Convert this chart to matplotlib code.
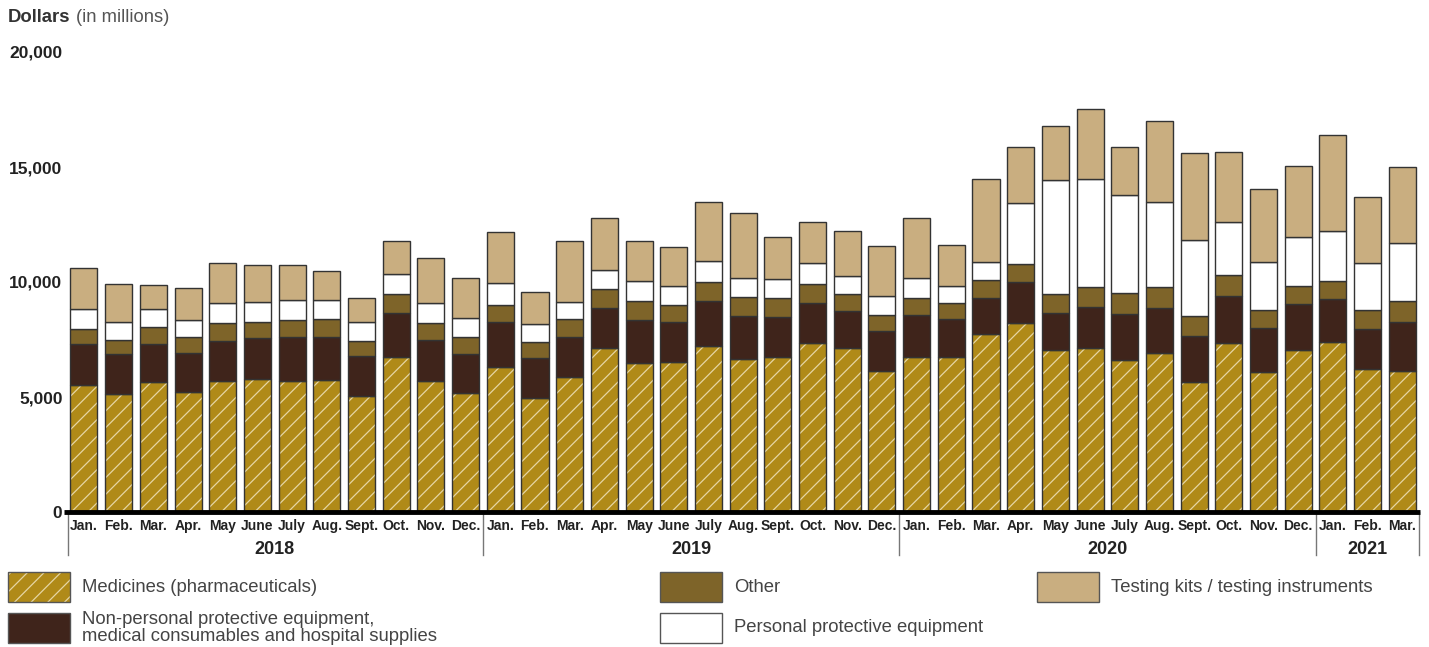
import matplotlib.pyplot as plt
import numpy as np
from matplotlib.patches import Rectangle

plt.rcParams['font.family'] = ['Liberation Sans', 'DejaVu Sans']
plt.rcParams['hatch.linewidth'] = 0.9

months = ['Jan.', 'Feb.', 'Mar.', 'Apr.', 'May', 'June', 'July', 'Aug.', 'Sept.', 'Oct.', 'Nov.', 'Dec.'] * 3 \
    + ['Jan.', 'Feb.', 'Mar.']
years = ['2018', '2019', '2020', '2021']
year_counts = [12, 12, 12, 3]

# dollars in millions
medicines = [5520, 5130, 5670, 5200, 5700, 5770, 5700, 5740, 5060, 6750, 5710, 5160,
             6320, 4970, 5880, 7120, 6460, 6510, 7230, 6650, 6730, 7330, 7120, 6150,
             6750, 6750, 7730, 8230, 7040, 7120, 6610, 6900, 5670, 7330, 6070, 7040,
             7380, 6220, 6150]
non_ppe = [1780, 1730, 1640, 1730, 1750, 1780, 1930, 1850, 1720, 1910, 1770, 1700,
           1960, 1740, 1740, 1770, 1880, 1770, 1940, 1870, 1770, 1770, 1620, 1700,
           1810, 1620, 1590, 1780, 1620, 1780, 1990, 1990, 1990, 2070, 1910, 1990,
           1880, 1740, 2130]
other = [650, 620, 720, 670, 750, 720, 720, 780, 670, 810, 750, 740,
         720, 670, 750, 810, 830, 730, 840, 810, 800, 810, 740, 720,
         730, 720, 770, 770, 810, 900, 910, 910, 880, 900, 800, 810,
         780, 830, 900]
ppe = [860, 780, 780, 750, 900, 870, 870, 840, 830, 870, 840, 830,
       970, 800, 770, 830, 880, 830, 910, 850, 830, 900, 780, 800,
       870, 740, 800, 2640, 4960, 4670, 4280, 3700, 3290, 2320, 2070, 2130,
       2170, 2030, 2510]
testing = [1810, 1640, 1040, 1410, 1740, 1590, 1520, 1280, 1040, 1450, 1960, 1740,
           2190, 1380, 2640, 2250, 1730, 1670, 2570, 2800, 1830, 1780, 1970, 2200,
           2610, 1770, 3580, 2440, 2360, 3060, 2100, 3480, 3770, 3020, 3190, 3090,
           4170, 2870, 3310]

series = [
    ('Medicines (pharmaceuticals)', medicines, '#B08A18'),
    ('Non-personal protective equipment,\nmedical consumables and hospital supplies', non_ppe, '#3F241B'),
    ('Other', other, '#7E6429'),
    ('Personal protective equipment', ppe, '#FFFFFF'),
    ('Testing kits / testing instruments', testing, '#C9AE80'),
]
hatch_col = '#E6D6A4'

W, H = 1429, 647
fig = plt.figure(figsize=(W / 100, H / 100), dpi=100)
ax = fig.add_axes([68 / W, 1 - 512 / H, 1351 / W, 460 / H])

x = np.arange(len(months))
bottom = np.zeros(len(months))
edge = '#333333'
for i, (name, vals, col) in enumerate(series):
    vals = np.array(vals, dtype=float)
    if i == 0:
        ax.bar(x, vals, 0.78, bottom=bottom, color=col, edgecolor=hatch_col, hatch='//', linewidth=0)
        ax.bar(x, vals, 0.78, bottom=bottom, fill=False, edgecolor=edge, linewidth=1)
    else:
        ax.bar(x, vals, 0.78, bottom=bottom, color=col, edgecolor=edge, linewidth=1)
    bottom += vals

ax.set_xlim(-0.46, len(months) - 0.52)
ax.set_ylim(0, 20000)
for s in ['top', 'right', 'left', 'bottom']:
    ax.spines[s].set_visible(False)
ax.plot([-0.003, 1.001], [0, 0], color='black', lw=3.5, transform=ax.transAxes,
        clip_on=False, solid_capstyle='butt', zorder=5)

ax.set_yticks([0, 5000, 10000, 15000, 20000])
ax.set_yticklabels(['0', '5,000', '10,000', '15,000', '20,000'], fontsize=12.5,
                   fontweight='bold', color='#222')
ax.tick_params(axis='y', length=0, pad=4)
ax.set_xticks(x)
ax.set_xticklabels(months, fontsize=10, fontweight='bold', color='#222')
ax.tick_params(axis='x', length=0, pad=5)

# year separators and labels
bounds = np.concatenate([[0], np.cumsum(year_counts)]) - 0.5
sep_bottom = -43 / 460
for b in bounds:
    xb = min(max(b, ax.get_xlim()[0]), ax.get_xlim()[1])
    ax.plot([xb, xb], [0, sep_bottom], color='#777', lw=1,
            transform=ax.get_xaxis_transform(), clip_on=False)
for yr, lo, hi in zip(years, bounds[:-1], bounds[1:]):
    ax.text((lo + hi) / 2, -38 / 460, yr, transform=ax.get_xaxis_transform(),
            ha='center', va='center', fontsize=13, fontweight='bold', color='#222')

fig.text(8 / W, 1 - 18 / H, 'Dollars', fontsize=13.3, fontweight='bold', color='#333', va='center')
fig.text(76 / W, 1 - 18 / H, '(in millions)', fontsize=13.2, color='#555', va='center')

# legend
legend_pos = [(8, 572), (8, 613), (660, 572), (660, 613), (1037, 572)]
for (name, vals, col), (lx, ly) in zip(series, legend_pos):
    box = ((lx / W, 1 - (ly + 30) / H), 62 / W, 30 / H)
    if name.startswith('Medicines'):
        fig.add_artist(Rectangle(*box, transform=fig.transFigure, facecolor=col,
                                 edgecolor=hatch_col, linewidth=0, hatch='//'))
        fig.add_artist(Rectangle(*box, transform=fig.transFigure, fill=False,
                                 edgecolor='#555', linewidth=1))
    else:
        fig.add_artist(Rectangle(*box, transform=fig.transFigure, facecolor=col,
                                 edgecolor='#555', linewidth=1))
    fig.text((lx + 74) / W, 1 - (ly + 15) / H, name, fontsize=13.3, color='#444',
             va='center', ha='left', linespacing=1.05)

fig.savefig('out.png', dpi=100)
